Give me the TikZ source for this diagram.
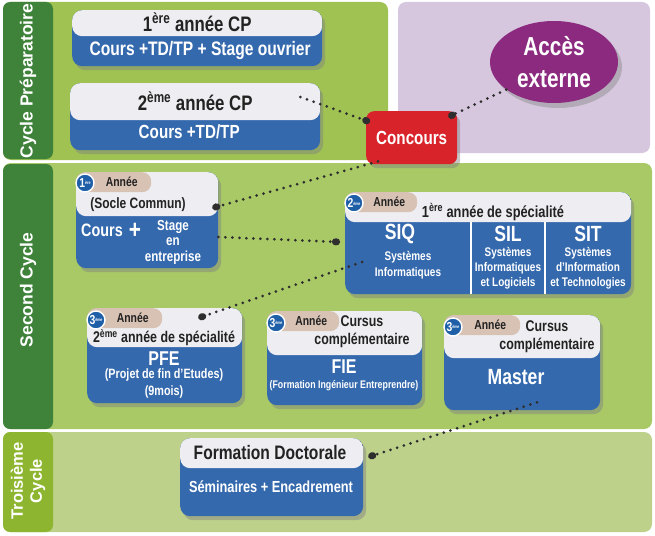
\documentclass[tikz,border=0pt]{standalone}
\usepackage{fontspec}
\setmainfont{Liberation Sans}[FakeStretch=0.8]
\newfontfamily\labelfont{Liberation Sans}
\usetikzlibrary{arrows.meta,positioning,calc,shapes.geometric,shadows}
\definecolor{panelgreen}{HTML}{9FC253}
\definecolor{panelgreen2}{HTML}{A8C966}
\definecolor{panelgreen3}{HTML}{BDD18B}
\definecolor{panelpurple}{HTML}{D6C7DE}
\definecolor{stripgreen}{HTML}{3F823A}
\definecolor{stripolive}{HTML}{8DB52F}
\definecolor{cardblue}{HTML}{3569AD}
\definecolor{cardtop}{HTML}{EEEEF2}
\definecolor{tagbeige}{HTML}{D8C2B4}
\definecolor{badgeblue}{HTML}{1F5FA8}
\definecolor{concred}{HTML}{D9232A}
\definecolor{accpurple}{HTML}{8B2A7F}
\definecolor{txtdark}{HTML}{222222}
\definecolor{dotgray}{HTML}{2E2E2E}
\newcommand\fsz[2]{\fontsize{#1}{#2}\selectfont}
\newcommand\yearnum[2]{#1\raisebox{2.5pt}{\fsz{4.5}{5}#2}}
\tikzset{
  cardbox/.style={fill=cardblue, rounded corners=10pt, anchor=north west, inner sep=0pt,
    drop shadow={shadow xshift=3pt, shadow yshift=-4pt, opacity=0.45},
    path picture={\fill[cardtop] (path picture bounding box.north west)
      rectangle ([yshift=-#1]path picture bounding box.north east);}},
  tagpill/.style={fill=tagbeige, rounded corners=9pt, anchor=north west, inner sep=0pt,
    minimum width=75pt, minimum height=20pt, text=txtdark, font=\bfseries\fsz{13}{14}},
  badge/.style={circle, fill=badgeblue, draw=white, line width=1.4pt, inner sep=0pt,
    minimum size=18pt, text=white, font=\bfseries\fsz{13}{13}},
  titletxt/.style={text=txtdark, inner sep=0pt, align=center},
  bluetxt/.style={text=white, inner sep=0pt, align=center},
  striplabel/.style={text=white, rotate=90, align=center, inner sep=0pt,
    font=\labelfont\bfseries\fsz{17.5}{19}},
  concbox/.style={fill=concred, rounded corners=8pt, anchor=north west, minimum width=91pt,
    minimum height=53pt, text=white, font=\bfseries\fsz{19}{21},
    drop shadow={shadow xshift=3pt, shadow yshift=-4pt, opacity=0.45}},
  accesell/.style={ellipse, fill=accpurple, minimum width=128pt, minimum height=82pt,
    inner sep=0pt, text=white, align=center, font=\bfseries\fsz{26}{30},
    drop shadow={shadow xshift=4pt, shadow yshift=-5pt, opacity=0.4}},
  dotline/.style={draw=dotgray, line width=3pt, line cap=round, dash pattern=on 0pt off 7pt,
    -{Circle[length=8pt, width=7pt]}}
}
\begin{document}
\begin{tikzpicture}[x=1pt, y=-1pt, font=\bfseries]
  \useasboundingbox (0,0) rectangle (655,535);
  % panels
  \fill[panelgreen, rounded corners=8pt] (3,2) rectangle (388,160);
  \fill[panelpurple, rounded corners=8pt] (398,2) rectangle (650,153);
  \fill[panelgreen2, rounded corners=8pt] (3,163) rectangle (652,429);
  \fill[panelgreen3, rounded corners=8pt] (3,432) rectangle (652,532);
  \fill[stripgreen, rounded corners=7pt] (3,2) rectangle (53,159);
  \fill[stripgreen, rounded corners=7pt] (3,164) rectangle (53,429);
  \fill[stripolive, rounded corners=7pt] (3,432) rectangle (53,532);
  \node[striplabel] (lblprep) at (28,81) {Cycle Préparatoire};
  \node[striplabel] (lblsecond) at (28,290) {Second Cycle};
  \node[striplabel, font=\labelfont\bfseries\fsz{16.5}{19}] (lblthird) at (28,481) {Troisième\\Cycle};

  % cycle preparatoire
  \node[cardbox=26pt, minimum width=250pt, minimum height=56pt] (cp1) at (72,10) {};
  \node[titletxt, font=\bfseries\fsz{21}{23}] (cp1t) at ($(cp1.north)+(0,12)$) {1\textsuperscript{ère} année CP};
  \node[bluetxt, font=\bfseries\fsz{19.5}{21}] (cp1b) at ($(cp1.north)+(3,41)$) {Cours +TD/TP + Stage ouvrier};
  \node[cardbox=37pt, minimum width=250pt, minimum height=67pt] (cp2) at (70,83) {};
  \node[titletxt, font=\bfseries\fsz{21}{23}] (cp2t) at ($(cp2.north)+(0,18)$) {2\textsuperscript{ème} année CP};
  \node[bluetxt, font=\bfseries\fsz{19}{21}] (cp2b) at ($(cp2.north)+(-6,49)$) {Cours +TD/TP};
  \node[concbox] (conc) at (366,111) {Concours};
  \node[accesell] (acces) at (554,62) {\raisebox{2pt}{Accès}\\externe};

  % second cycle
  \node[cardbox=44pt, minimum width=142pt, minimum height=96pt] (c1) at (76,172) {};
  \node[tagpill] (c1tag) at (c1.north west) {\hspace{16pt}Année};
  \node[badge] (c1badge) at ($(c1.north west)+(9,11)$) {\yearnum{1}{ère}};
  \node[titletxt, font=\bfseries\fsz{15}{17}] (c1t) at ($(c1.north west)+(62,33)$) {(Socle Commun)};
  \node[bluetxt, font=\bfseries\fsz{18}{20}] (c1cours) at ($(c1.north west)+(26,58)$) {Cours};
  \node[bluetxt, font=\bfseries\fsz{26}{26}] (c1plus) at ($(c1.north west)+(59,59)$) {+};
  \node[bluetxt, font=\bfseries\fsz{14.5}{15.5}] (c1stage) at ($(c1.north west)+(97,70)$) {Stage\\en\\entreprise};

  \node[cardbox=30pt, minimum width=286pt, minimum height=102pt] (sp) at (345,192) {};
  \draw[white, line width=2.5pt] ($(sp.north west)+(126,30)$) -- ($(sp.north west)+(126,102)$);
  \draw[white, line width=2.5pt] ($(sp.north west)+(200,30)$) -- ($(sp.north west)+(200,102)$);
  \node[tagpill, minimum width=72pt] (sptag) at (sp.north west) {\hspace{16pt}Année};
  \node[badge] (spbadge) at ($(sp.north west)+(9,11)$) {\yearnum{2}{ème}};
  \node[titletxt, font=\bfseries\fsz{16}{18}] (spt) at ($(sp.north west)+(148,20)$) {1\textsuperscript{ère} année de spécialité};
  \node[bluetxt, font=\bfseries\fsz{22}{24}] (siq) at ($(sp.north west)+(55,42)$) {SIQ};
  \node[bluetxt, font=\bfseries\fsz{12.5}{16}] (siqt) at ($(sp.north west)+(63,73)$) {Systèmes\\Informatiques};
  \node[bluetxt, font=\bfseries\fsz{22}{24}] (sil) at ($(sp.north west)+(163,42)$) {SIL};
  \node[bluetxt, font=\bfseries\fsz{12.5}{15}] (silt) at ($(sp.north west)+(163,76)$) {Systèmes\\Informatiques\\et Logiciels};
  \node[bluetxt, font=\bfseries\fsz{22}{24}] (sit) at ($(sp.north west)+(243,42)$) {SIT};
  \node[bluetxt, font=\bfseries\fsz{12.5}{15}] (sitt) at ($(sp.north west)+(243,76)$) {Systèmes\\d’Information\\et Technologies};

  \node[cardbox=39pt, minimum width=155pt, minimum height=95pt] (pfe) at (87,308) {};
  \node[tagpill] (pfetag) at (pfe.north west) {\hspace{16pt}Année};
  \node[badge] (pfebadge) at ($(pfe.north west)+(9,12)$) {\yearnum{3}{ème}};
  \node[titletxt, font=\bfseries\fsz{15.5}{17}] (pfet) at ($(pfe.north west)+(77,30)$) {2\textsuperscript{ème} année de spécialité};
  \node[bluetxt, font=\bfseries\fsz{20}{22}] (pfeb) at ($(pfe.north west)+(77,51)$) {PFE};
  \node[bluetxt, font=\bfseries\fsz{13.5}{17}] (pfed) at ($(pfe.north west)+(77,76)$) {(Projet de fin d’Etudes)\\(9mois)};

  \node[cardbox=44pt, minimum width=155pt, minimum height=94pt] (fie) at (267,311) {};
  \node[tagpill, minimum width=72pt] (fietag) at (fie.north west) {\hspace{16pt}Année};
  \node[badge] (fiebadge) at ($(fie.north west)+(9,12)$) {\yearnum{3}{ème}};
  \node[titletxt, font=\bfseries\fsz{15.5}{18}] (fiet) at ($(fie.north west)+(95,21)$) {Cursus\\complémentaire};
  \node[bluetxt, font=\bfseries\fsz{20}{22}] (fieb) at ($(fie.north west)+(77,56)$) {FIE};
  \node[bluetxt, font=\bfseries\fsz{11}{12}] (fied) at ($(fie.north west)+(77,75)$) {(Formation Ingénieur Entreprendre)};

  \node[cardbox=43pt, minimum width=156pt, minimum height=95pt] (master) at (444,315) {};
  \node[tagpill, minimum width=76pt] (mastag) at (master.north west) {\hspace{16pt}Année};
  \node[badge] (masbadge) at ($(master.north west)+(9,12)$) {\yearnum{3}{ème}};
  \node[titletxt, font=\bfseries\fsz{15.5}{18}] (mast) at ($(master.north west)+(103,22)$) {Cursus\\complémentaire};
  \node[bluetxt, font=\bfseries\fsz{22}{24}] (masb) at ($(master.north west)+(72,62)$) {Master};

  % troisieme cycle
  \node[cardbox=30pt, minimum width=183pt, minimum height=78pt] (doct) at (180,438) {};
  \node[titletxt, font=\bfseries\fsz{19.5}{21}] (doctt) at ($(doct.north west)+(90,15)$) {Formation Doctorale};
  \node[bluetxt, font=\bfseries\fsz{16}{18}] (doctb) at ($(doct.north west)+(91,49)$) {Séminaires + Encadrement};

  % dotted links
  \draw[dotline] ($(cp2.north east)+(-20,14)$) -- ($(conc.north west)+(4,11)$);
  \draw[dotline] (acces.210) -- ($(conc.north east)+(-9,6)$);
  \draw[dotline] ($(conc.south west)+(12,-3)$) -- ($(c1.north east)+(-6,36)$);
  \draw[dotline] ($(c1.north east)+(0,65)$) -- ($(sp.north west)+(-5,50)$);
  \draw[dotline] ($(sp.north west)+(17,70)$) -- ($(pfe.north east)+(-44,10)$);
  \draw[dotline] ($(master.south west)+(93,-8)$) -- ($(doct.north east)+(5,19)$);
\end{tikzpicture}
\end{document}
